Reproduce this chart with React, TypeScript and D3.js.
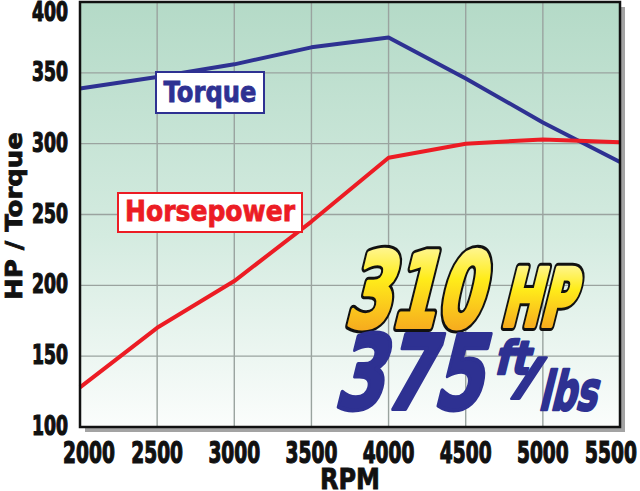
import { useEffect, useRef } from 'react'
import * as d3 from 'd3'

const RPM = [2000, 2500, 3000, 3500, 4000, 4500, 5000, 5500]
const TORQUE = [339, 347, 356, 368, 375, 346, 315, 287]
const HORSEPOWER = [128, 170, 203, 245, 290, 300, 303, 301]
const Y_TICKS = [100, 150, 200, 250, 300, 350, 400]

const BLUE = '#2e3192'
const RED = '#ec1c24'
const TICK_FONT = '"DejaVu Sans Condensed", "DejaVu Sans", sans-serif'
const LABEL_FONT = '"DejaVu Sans", sans-serif'

export default function App() {
  const svgRef = useRef<SVGSVGElement>(null)

  useEffect(() => {
    const svgEl = svgRef.current
    if (!svgEl) return
    const width = 640
    const height = 491
    const left = 80, right = 620, top = 2, bottom = 427

    const svg = d3.select(svgEl)
    svg.selectAll('*').remove()
    svg.attr('width', width).attr('height', height)

    const x = d3.scaleLinear().domain([2000, 5500]).range([left, right])
    const y = d3.scaleLinear().domain([100, 400]).range([bottom, top])

    const defs = svg.append('defs')
    const bg = defs.append('linearGradient').attr('id', 'bg').attr('x1', 0).attr('y1', 0).attr('x2', 0).attr('y2', 1)
    bg.append('stop').attr('offset', '0%').attr('stop-color', '#b4dac7')
    bg.append('stop').attr('offset', '55%').attr('stop-color', '#d4ebe0')
    bg.append('stop').attr('offset', '100%').attr('stop-color', '#fbfdfc')
    const gold = defs.append('linearGradient').attr('id', 'gold').attr('x1', 0).attr('y1', 0).attr('x2', 0).attr('y2', 1)
    gold.append('stop').attr('offset', '0%').attr('stop-color', '#fffbd0')
    gold.append('stop').attr('offset', '40%').attr('stop-color', '#ffec1a')
    gold.append('stop').attr('offset', '100%').attr('stop-color', '#f39020')

    // Shadow + plot background
    svg.append('rect')
      .attr('x', left + 5).attr('y', top + 5)
      .attr('width', right - left).attr('height', bottom - top)
      .attr('fill', '#a3a3a3')
    svg.append('rect')
      .attr('x', left).attr('y', top)
      .attr('width', right - left).attr('height', bottom - top)
      .attr('fill', 'url(#bg)')

    // Grid
    RPM.slice(1, -1).forEach(t => {
      svg.append('line')
        .attr('x1', x(t)).attr('x2', x(t)).attr('y1', top).attr('y2', bottom)
        .attr('stroke', '#9aa39f').attr('stroke-width', 1.4)
    })
    Y_TICKS.slice(1, -1).forEach(t => {
      svg.append('line')
        .attr('x1', left).attr('x2', right).attr('y1', y(t)).attr('y2', y(t))
        .attr('stroke', '#9aa39f').attr('stroke-width', 1.4)
    })

    // Lines
    const line = d3.line<number>().x((_, i) => x(RPM[i])).y(d => y(d))
    svg.append('path').attr('d', line(TORQUE))
      .attr('fill', 'none').attr('stroke', BLUE).attr('stroke-width', 4).attr('stroke-linejoin', 'round')
    svg.append('path').attr('d', line(HORSEPOWER))
      .attr('fill', 'none').attr('stroke', RED).attr('stroke-width', 4).attr('stroke-linejoin', 'round')

    // Border
    svg.append('rect')
      .attr('x', left).attr('y', top)
      .attr('width', right - left).attr('height', bottom - top)
      .attr('fill', 'none').attr('stroke', '#111').attr('stroke-width', 2.5)

    // Series labels
    const labelBox = (text: string, color: string, bx: number, by: number, bw: number, bh: number, tw: number) => {
      svg.append('rect')
        .attr('x', bx).attr('y', by).attr('width', bw).attr('height', bh)
        .attr('fill', '#fff').attr('stroke', color).attr('stroke-width', 2)
      svg.append('text')
        .attr('x', bx + bw / 2).attr('y', by + bh - 11)
        .attr('text-anchor', 'middle')
        .attr('textLength', tw).attr('lengthAdjust', 'spacingAndGlyphs')
        .attr('fill', color).attr('stroke', color).attr('stroke-width', 0.8)
        .style('font-family', LABEL_FONT).style('font-weight', 'bold').style('font-size', '28px')
        .text(text)
    }
    labelBox('Torque', BLUE, 156, 72, 108, 41, 93)
    labelBox('Horsepower', RED, 118, 193, 184, 39, 170)

    // Y tick labels
    Y_TICKS.forEach(t => {
      svg.append('text')
        .attr('transform', `translate(68,${Math.max(y(t) + 8, 21)}) scale(0.71,1)`)
        .attr('text-anchor', 'end')
        .attr('fill', '#111').attr('stroke', '#111').attr('stroke-width', 1.2)
        .style('font-family', TICK_FONT).style('font-weight', 'bold').style('font-size', '27px')
        .text(t)
    })

    // X tick labels
    RPM.forEach(t => {
      const cx = Math.min(Math.max(x(t), 89), 611)
      svg.append('text')
        .attr('transform', `translate(${cx},463) scale(0.69,1)`)
        .attr('text-anchor', 'middle')
        .attr('fill', '#111').attr('stroke', '#111').attr('stroke-width', 1.2)
        .style('font-family', TICK_FONT).style('font-weight', 'bold').style('font-size', '30px')
        .text(t)
    })

    // Axis titles
    svg.append('text')
      .attr('x', 350).attr('y', 489)
      .attr('text-anchor', 'middle')
      .attr('textLength', 60).attr('lengthAdjust', 'spacingAndGlyphs')
      .attr('fill', '#111').attr('stroke', '#111').attr('stroke-width', 0.8)
      .style('font-family', LABEL_FONT).style('font-weight', 'bold').style('font-size', '28px')
      .text('RPM')
    svg.append('text')
      .attr('transform', 'translate(22,216) rotate(-90)')
      .attr('text-anchor', 'middle')
      .attr('textLength', 168).attr('lengthAdjust', 'spacingAndGlyphs')
      .attr('fill', '#111').attr('stroke', '#111').attr('stroke-width', 0.8)
      .style('font-family', LABEL_FONT).style('font-weight', 'bold').style('font-size', '23px')
      .text('HP / Torque')

    // Headline figures
    const big = (text: string, tx: number, ty: number, size: number, len: number, fill: string, outline: boolean) => {
      const place = () => svg.append('text')
        .attr('transform', `translate(${tx},${ty}) skewX(-14)`)
        .attr('textLength', len).attr('lengthAdjust', 'spacingAndGlyphs')
        .attr('stroke-linejoin', 'round')
        .style('font-family', TICK_FONT).style('font-weight', 'bold').style('font-size', `${size}px`)
        .text(text)
      if (outline) {
        place().attr('fill', '#111').attr('stroke', '#111').attr('stroke-width', 10)
      }
      place().attr('fill', fill).attr('stroke', fill).attr('stroke-width', size > 60 ? 4 : 2.5)
    }
    big('310', 344, 327, 104, 136, 'url(#gold)', true)
    big('HP', 500, 326, 80, 72, 'url(#gold)', true)
    big('375', 333, 409, 103, 148, BLUE, false)
    big('ft', 494, 374, 46, 34, BLUE, false)
    big('/', 513, 394, 50, 24, BLUE, false)
    big('lbs', 538, 410, 54, 58, BLUE, false)
  }, [])

  return (
    <div style={{ position: 'absolute', left: 0, top: 0 }}>
      <svg ref={svgRef} style={{ display: 'block' }} />
    </div>
  )
}
